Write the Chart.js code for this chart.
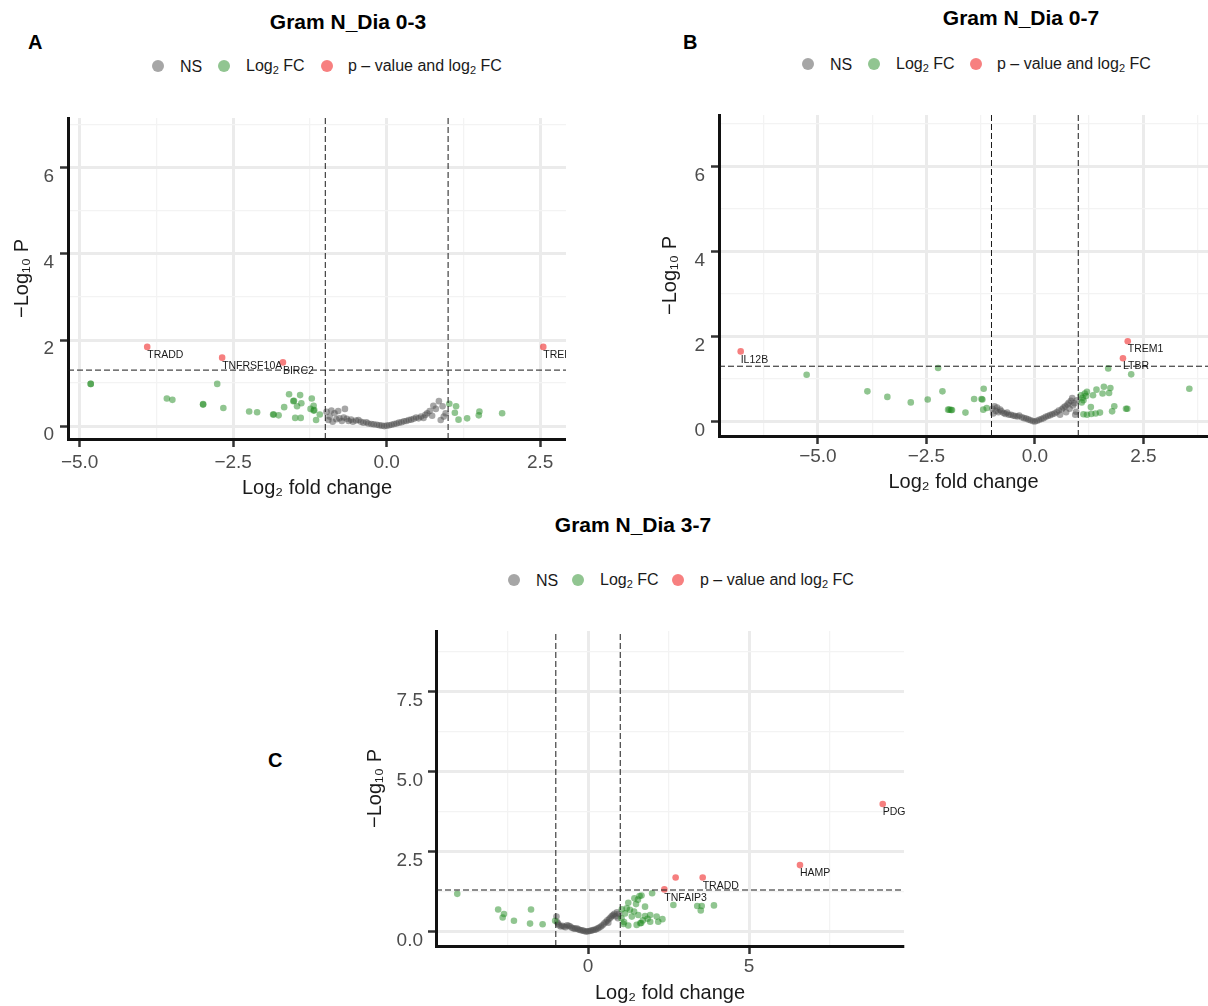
<!DOCTYPE html>
<html>
<head>
<meta charset="utf-8">
<script src="https://cdn.jsdelivr.net/npm/chart.js@4.4.1/dist/chart.umd.min.js"></script>
<style>
  body { margin: 0; background: #fff; font-family: "Liberation Sans", Arial, sans-serif; }
  #page { position: relative; width: 1208px; height: 1006px; overflow: hidden; }
  .title { position: absolute; width: 320px; text-align: center; font-weight: bold; font-size: 21px; line-height: 22px; color: #000; }
  .tag { position: absolute; font-weight: bold; font-size: 20px; line-height: 20px; color: #000; }
  .leg { position: absolute; font-size: 16px; line-height: 18px; color: #1a1a1a; white-space: nowrap; }
  .leg sub { font-size: 11px; vertical-align: -3px; line-height: 0; }
  .dot { position: absolute; width: 12px; height: 12px; border-radius: 50%; }
  canvas { position: absolute; }
</style>
</head>
<body>
<div id="page">
  <!-- panel A -->
  <div class="title" style="left:188px;top:11px">Gram N_Dia 0-3</div>
  <div class="tag" style="left:28px;top:32px">A</div>
  <div class="dot" style="left:152px;top:60px;background:#a6a6a6"></div>
  <div class="leg" style="left:180px;top:58px">NS</div>
  <div class="dot" style="left:218px;top:60px;background:#91c591"></div>
  <div class="leg" style="left:246px;top:57px">Log<sub>2</sub> FC</div>
  <div class="dot" style="left:321px;top:60px;background:#f78080"></div>
  <div class="leg" style="left:348px;top:57px">p – value and log<sub>2</sub> FC</div>
  <canvas id="chartA" width="566" height="410" style="left:0;top:100px"></canvas>

  <!-- panel B -->
  <div class="title" style="left:861px;top:7px">Gram N_Dia 0-7</div>
  <div class="tag" style="left:683px;top:32px">B</div>
  <div class="dot" style="left:802px;top:58px;background:#a6a6a6"></div>
  <div class="leg" style="left:830px;top:56px">NS</div>
  <div class="dot" style="left:868px;top:58px;background:#91c591"></div>
  <div class="leg" style="left:896px;top:55px">Log<sub>2</sub> FC</div>
  <div class="dot" style="left:970px;top:58px;background:#f78080"></div>
  <div class="leg" style="left:997px;top:55px">p – value and log<sub>2</sub> FC</div>
  <canvas id="chartB" width="560" height="408" style="left:648px;top:97px"></canvas>

  <!-- panel C -->
  <div class="title" style="left:473px;top:514px">Gram N_Dia 3-7</div>
  <div class="tag" style="left:268px;top:750px">C</div>
  <div class="dot" style="left:508px;top:574px;background:#a6a6a6"></div>
  <div class="leg" style="left:536px;top:572px">NS</div>
  <div class="dot" style="left:572px;top:574px;background:#91c591"></div>
  <div class="leg" style="left:600px;top:571px">Log<sub>2</sub> FC</div>
  <div class="dot" style="left:672px;top:574px;background:#f78080"></div>
  <div class="leg" style="left:700px;top:571px">p – value and log<sub>2</sub> FC</div>
  <canvas id="chartC" width="557" height="393" style="left:353px;top:613px"></canvas>
</div>

<script>
// cut-offs used by the volcano plots
const FC_CUT = 1;
const P_CUT = 0.05;

// ---- Gram N_Dia 0-3 ----
const A_NS = [
  [-0.98,0.33],[-0.95,0.14],[-0.93,0.22],[-0.90,0.36],[-0.88,0.10],[-0.85,0.30],[-0.82,0.16],[-0.79,0.35],
  [-0.77,0.18],[-0.73,0.12],[-0.70,0.20],[-0.68,0.40],[-0.65,0.17],[-0.62,0.12],[-0.58,0.15],[-0.55,0.10],
  [-0.50,0.13],[-0.46,0.14],[-0.42,0.10],[-0.38,0.08],[-0.33,0.09],[-0.30,0.06],[-0.25,0.05],[-0.21,0.04],
  [-0.16,0.03],[-0.12,0.02],[-0.08,0.01],[-0.04,0.00],[0.00,0.01],[0.04,0.02],[0.08,0.03],[0.12,0.05],
  [0.16,0.06],[0.20,0.08],[0.24,0.09],[0.28,0.11],[0.32,0.12],[0.36,0.14],[0.40,0.15],[0.44,0.17],
  [0.48,0.20],[0.52,0.18],[0.56,0.22],[0.60,0.19],[0.63,0.26],[0.66,0.30],[0.70,0.35],[0.74,0.24],
  [0.76,0.47],[0.80,0.40],[0.85,0.58],[0.88,0.14],[0.91,0.46],[0.93,0.22],[0.96,0.30]
];
const A_FC = [
  [-4.82,0.98],[-4.82,0.98],[-2.76,0.98],[-3.58,0.64],[-3.49,0.61],[-2.99,0.50],[-2.99,0.51],[-2.66,0.42],
  [-2.24,0.34],[-2.11,0.32],[-1.85,0.27],[-1.84,0.27],[-1.76,0.25],[-1.59,0.74],[-1.41,0.72],[-1.52,0.58],
  [-1.51,0.59],[-1.39,0.53],[-1.67,0.44],[-1.46,0.46],[-1.22,0.64],[-1.19,0.47],[-1.19,0.36],[-1.18,0.37],
  [-1.24,0.40],[-1.49,0.19],[-1.40,0.19],[-1.15,0.14],[-1.09,0.27],
  [1.02,0.52],[1.13,0.46],[1.11,0.31],[1.17,0.15],[1.31,0.18],[1.51,0.34],[1.50,0.25],[1.88,0.30]
];
const A_SIG = [[-3.90,1.84],[-2.68,1.59],[-1.69,1.48],[2.55,1.84]];
const A_GENES = ['TRADD','TNFRSF10A','BIRC2','TREM1'];
const A_X_TICKS = [-5,-3.75,-2.5,-1.25,0,1.25,2.5];
const A_X_MAJOR = [-5,-2.5,0,2.5];
const A_X_LABELS = ['\u22125.0','\u22122.5','0.0','2.5'];
const A_Y_TICKS = [0,1,2,3,4,5,6,7];
const A_Y_MAJOR = [0,2,4,6];
const A_Y_LABELS = ['0','2','4','6'];

// ---- Gram N_Dia 0-7 ----
const B_NS = [
  [-0.98,0.30],[-0.96,0.19],[-0.93,0.36],[-0.90,0.25],[-0.87,0.33],[-0.84,0.22],[-0.80,0.28],[-0.77,0.24],
  [-0.72,0.20],[-0.68,0.18],[-0.64,0.21],[-0.60,0.16],[-0.55,0.16],[-0.50,0.14],[-0.45,0.13],[-0.40,0.12],
  [-0.36,0.14],[-0.30,0.10],[-0.25,0.08],[-0.20,0.07],[-0.15,0.05],[-0.10,0.03],[-0.05,0.01],[0.00,0.00],
  [0.05,0.02],[0.10,0.04],[0.15,0.06],[0.20,0.08],[0.25,0.11],[0.30,0.13],[0.35,0.15],[0.40,0.17],
  [0.45,0.19],[0.50,0.22],[0.55,0.26],[0.58,0.16],[0.62,0.29],[0.66,0.33],[0.70,0.36],[0.72,0.22],
  [0.75,0.40],[0.78,0.44],[0.80,0.30],[0.83,0.49],[0.86,0.55],[0.88,0.38],[0.91,0.43],[0.93,0.16],
  [0.95,0.23],[0.97,0.50]
];
const B_FC = [
  [-5.26,1.10],[-3.86,0.71],[-3.40,0.58],[-2.86,0.45],[-2.47,0.52],[-2.23,1.26],[-2.13,0.71],[-2.00,0.28],
  [-1.97,0.28],[-1.93,0.27],[-1.91,0.27],[-1.60,0.21],[-1.40,0.53],[-1.23,0.53],[-1.21,0.52],[-1.18,0.77],
  [-1.19,0.28],[-1.11,0.32],
  [1.06,0.62],[1.10,0.56],[1.12,0.50],[1.15,0.66],[1.18,0.60],[1.20,0.70],[1.08,0.45],[1.34,0.62],
  [1.42,0.75],[1.59,0.82],[1.74,0.79],[1.56,0.66],[1.71,0.67],[1.29,0.34],[1.83,0.36],[1.78,0.24],
  [2.10,0.30],[2.13,0.30],[1.50,0.21],[1.40,0.19],[1.30,0.18],[1.20,0.16],[1.12,0.17],[1.69,1.25],
  [2.22,1.11],[3.56,0.77]
];
const B_SIG = [[-6.78,1.65],[2.14,1.89],[2.03,1.49]];
const B_GENES = ['IL12B','TREM1','LTBR'];
const B_X_TICKS = [-6.25,-5,-3.75,-2.5,-1.25,0,1.25,2.5,3.75];
const B_X_MAJOR = [-5,-2.5,0,2.5];
const B_X_LABELS = ['\u22125.0','\u22122.5','0.0','2.5'];
const B_Y_TICKS = [0,1,2,3,4,5,6,7];
const B_Y_MAJOR = [0,2,4,6];
const B_Y_LABELS = ['0','2','4','6'];

// ---- Gram N_Dia 3-7 ----
const C_NS = [
  [-0.98,0.47],[-0.96,0.30],[-0.93,0.25],[-0.90,0.20],[-0.85,0.16],[-0.80,0.18],[-0.75,0.16],[-0.70,0.14],
  [-0.65,0.20],[-0.60,0.18],[-0.55,0.16],[-0.50,0.12],[-0.45,0.10],[-0.40,0.09],[-0.35,0.10],[-0.30,0.07],
  [-0.25,0.05],[-0.20,0.04],[-0.15,0.03],[-0.10,0.01],[-0.05,0.00],[0.00,0.01],[0.05,0.02],[0.10,0.03],
  [0.15,0.05],[0.20,0.06],[0.25,0.07],[0.30,0.10],[0.35,0.13],[0.40,0.16],[0.45,0.20],[0.50,0.25],
  [0.55,0.30],[0.60,0.35],[0.63,0.28],[0.66,0.40],[0.70,0.44],[0.74,0.49],[0.78,0.52],[0.82,0.56],
  [0.86,0.48],[0.90,0.60],[0.93,0.42],[0.96,0.55]
];
const C_FC = [
  [-4.06,1.18],[-2.79,0.69],[-2.61,0.55],[-2.65,0.44],[-2.30,0.34],[-1.77,0.69],[-1.80,0.25],[-1.41,0.23],
  [-1.02,0.34],
  [1.44,1.04],[1.60,1.11],[1.66,1.13],[1.99,1.20],[1.49,0.86],[1.20,0.73],[1.30,0.68],[1.43,0.63],
  [1.15,0.57],[1.36,0.47],[1.56,0.52],[1.77,0.49],[1.93,0.52],[2.13,0.47],[2.31,0.39],[2.18,0.31],
  [1.93,0.31],[1.62,0.26],[1.51,0.21],[1.25,0.19],[1.10,0.24],[1.04,0.42],[1.77,0.78],[2.65,0.83],
  [3.39,0.80],[3.53,0.80],[3.50,0.66],[3.91,0.82],[1.05,0.70],[1.25,0.90],[1.55,1.00],[1.70,0.35],
  [1.12,0.30],[1.65,0.27],[1.85,0.40]
];
const C_SIG = [[9.15,3.99],[6.58,2.08],[3.56,1.69],[2.72,1.69],[2.37,1.32]];
const C_GENES = ['PDG','HAMP','TRADD','','TNFAIP3'];
const C_X_TICKS = [-2.5,0,2.5,5,7.5];
const C_X_MAJOR = [0,5];
const C_X_LABELS = ['0','5'];
const C_Y_TICKS = [0,1.25,2.5,3.75,5,6.25,7.5,8.75];
const C_Y_MAJOR = [0,2.5,5,7.5];
const C_Y_LABELS = ['0.0','2.5','5.0','7.5'];

const FONT = '"Liberation Sans", Arial, sans-serif';
const NS_COL = 'rgba(77,77,77,0.5)';
const FC_COL = 'rgba(34,139,34,0.5)';
const SIG_COL = 'rgba(238,0,0,0.5)';

function pts(arr) {
    return arr.map(([x, y]) => ({x, y}));
}

function findIdx(list, v) {
    return list.findIndex(m => Math.abs(m - v) < 1e-6);
}

// gene names written under-right of the significant points
const geneLabels = {
    id: 'geneLabels',
    afterDatasetsDraw(chart) {
        const ctx = chart.ctx;
        chart.data.datasets.forEach((ds, i) => {
            if (!ds.genes) return;
            const meta = chart.getDatasetMeta(i);
            ctx.save();
            ctx.font = '10.5px ' + FONT;
            ctx.fillStyle = '#1a1a1a';
            ctx.textBaseline = 'top';
            meta.data.forEach((pt, j) => {
                if (ds.genes[j]) ctx.fillText(ds.genes[j], pt.x, pt.y + 3);
            });
            ctx.restore();
        });
    }
};

function axisOpts(ticks, major, labels, min, max, title, o) {
    const isMajor = c => c.tick && findIdx(major, c.tick.value) >= 0;
    return {
        type: 'linear',
        min, max,
        afterBuildTicks: sc => { sc.ticks = ticks.map(v => ({value: v})); },
        afterFit: sc => {
            if (o.width) { sc.width = o.width; sc.paddingTop = 0; sc.paddingBottom = 0; }
            if (o.height) { sc.height = o.height; sc.paddingLeft = 0; sc.paddingRight = 0; }
        },
        ticks: {
            autoSkip: false, maxRotation: 0, minRotation: 0,
            padding: o.labelPad,
            labelOffset: o.labelOffset || 0,
            color: '#4d4d4d',
            font: {family: FONT, size: 19},
            callback: v => { const k = findIdx(major, v); return k < 0 ? '' : labels[k]; }
        },
        grid: {
            color: c => isMajor(c) ? '#ebebeb' : '#f3f3f3',
            lineWidth: c => isMajor(c) ? 3 : 1.3,
            drawTicks: true,
            tickLength: 8,
            tickColor: c => isMajor(c) ? '#333' : 'rgba(0,0,0,0)',
            tickWidth: 2.5
        },
        border: {display: true, color: '#111', width: 3},
        title: {
            display: true, text: title, color: '#1a1a1a',
            font: {family: FONT, size: 20},
            padding: o.titlePad
        }
    };
}

function volcano(id, p) {
    const yCut = -Math.log10(P_CUT);
    const dash = (data) => ({
        data, showLine: true, borderColor: '#1a1a1a', borderWidth: 1, borderDash: [6, 3],
        pointRadius: 0, fill: false
    });
    new Chart(document.getElementById(id), {
        type: 'scatter',
        data: {
            datasets: [
                dash([{x: -FC_CUT, y: p.yMin}, {x: -FC_CUT, y: p.yMax}]),
                dash([{x: FC_CUT, y: p.yMin}, {x: FC_CUT, y: p.yMax}]),
                dash([{x: p.xMin, y: yCut}, {x: p.xMax, y: yCut}]),
                {label: 'p - value and log2 FC', data: pts(p.sig), genes: p.genes, backgroundColor: SIG_COL, pointRadius: 3.3, borderWidth: 0},
                {label: 'Log2 FC', data: pts(p.fc), backgroundColor: FC_COL, pointRadius: 3.3, borderWidth: 0},
                {label: 'NS', data: pts(p.ns), backgroundColor: NS_COL, pointRadius: 3.3, borderWidth: 0}
            ]
        },
        options: {
            responsive: false,
            animation: false,
            layout: {autoPadding: false, padding: {top: 18, right: p.padRight || 0, bottom: 0, left: 0}},
            plugins: {legend: {display: false}, tooltip: {enabled: false}},
            scales: {
                x: axisOpts(p.xTicks, p.xMajor, p.xLabels, p.xMin, p.xMax, 'Log\u2082 fold change',
                    {height: p.xAxisH, labelPad: p.xLabelPad, titlePad: {top: 0, bottom: p.xTitlePad}}),
                y: axisOpts(p.yTicks, p.yMajor, p.yLabels, p.yMin, p.yMax, '\u2212Log\u2081\u2080 P',
                    {width: p.yAxisW, labelPad: p.yLabelPad, labelOffset: 9, titlePad: {top: 10, bottom: 0}})
            }
        },
        plugins: [geneLabels]
    });
}

volcano('chartA', {
    ns: A_NS, fc: A_FC, sig: A_SIG, genes: A_GENES,
    xMin: -5.19, xMax: 2.92, yMin: -0.30, yMax: 7.16,
    xTicks: A_X_TICKS, xMajor: A_X_MAJOR, xLabels: A_X_LABELS,
    yTicks: A_Y_TICKS, yMajor: A_Y_MAJOR, yLabels: A_Y_LABELS,
    yAxisW: 68, xAxisH: 71, xLabelPad: 4.6, xTitlePad: 10, yLabelPad: 6
});

volcano('chartB', {
    ns: B_NS, fc: B_FC, sig: B_SIG, genes: B_GENES,
    xMin: -7.28, xMax: 3.99, yMin: -0.34, yMax: 7.21,
    xTicks: B_X_TICKS, xMajor: B_X_MAJOR, xLabels: B_X_LABELS,
    yTicks: B_Y_TICKS, yMajor: B_Y_MAJOR, yLabels: B_Y_LABELS,
    yAxisW: 71, xAxisH: 69, xLabelPad: 1.6, xTitlePad: 11, yLabelPad: 6
});

volcano('chartC', {
    ns: C_NS, fc: C_FC, sig: C_SIG, genes: C_GENES,
    xMin: -4.72, xMax: 9.81, yMin: -0.45, yMax: 9.40,
    xTicks: C_X_TICKS, xMajor: C_X_MAJOR, xLabels: C_X_LABELS,
    yTicks: C_Y_TICKS, yMajor: C_Y_MAJOR, yLabels: C_Y_LABELS,
    yAxisW: 83, xAxisH: 60, xLabelPad: 1.6, xTitlePad: 1, yLabelPad: 5, padRight: 6
});
</script>
</body>
</html>
